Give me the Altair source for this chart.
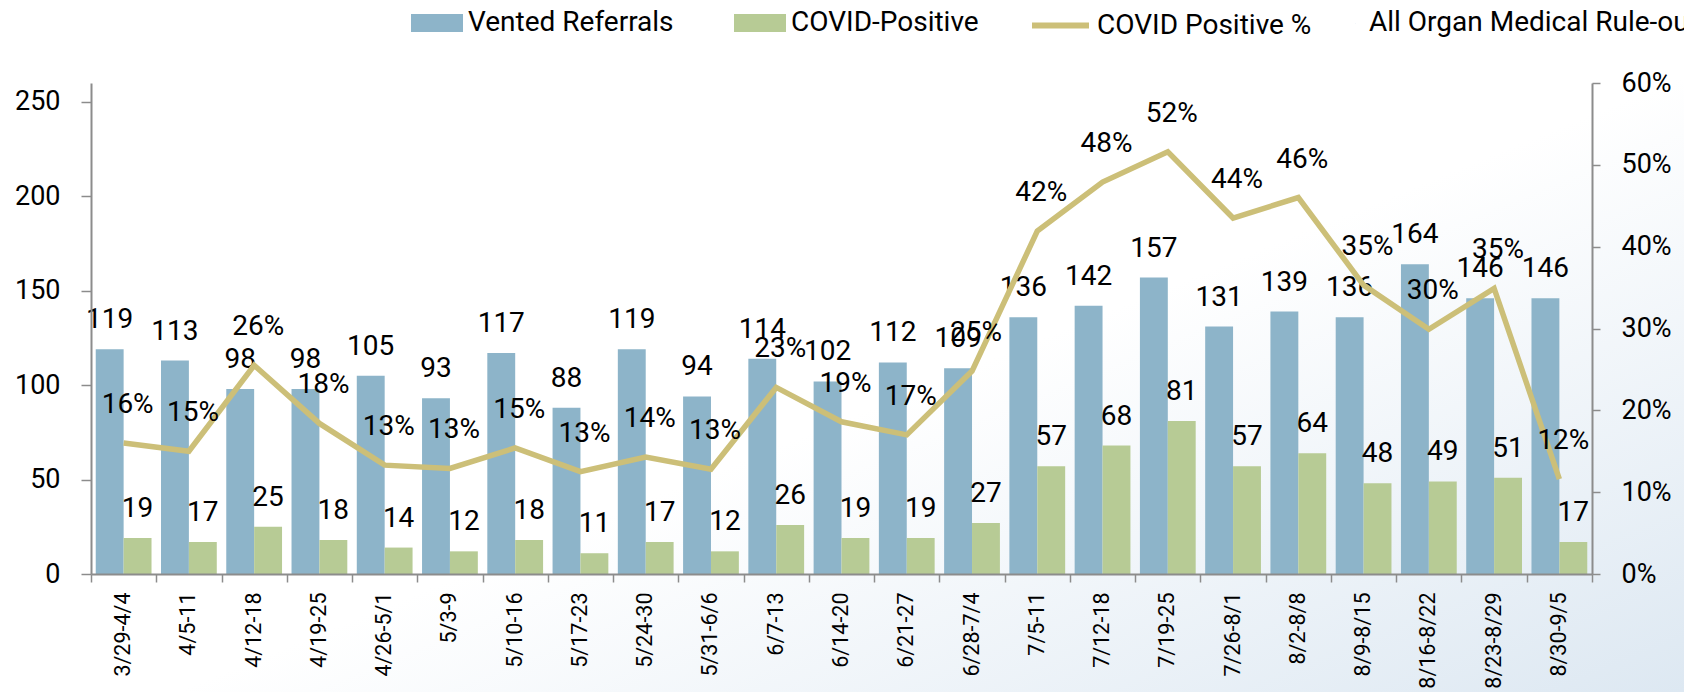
import altair as alt
import pandas as pd

weeks = ["3/29-4/4", "4/5-11", "4/12-18", "4/19-25", "4/26-5/1", "5/3-9", "5/10-16",
         "5/17-23", "5/24-30", "5/31-6/6", "6/7-13", "6/14-20", "6/21-27", "6/28-7/4",
         "7/5-11", "7/12-18", "7/19-25", "7/26-8/1", "8/2-8/8", "8/9-8/15", "8/16-8/22",
         "8/23-8/29", "8/30-9/5"]
vented = [119, 113, 98, 98, 105, 93, 117, 88, 119, 94, 114, 102, 112, 109,
          136, 142, 157, 131, 139, 136, 164, 146, 146]
positive = [19, 17, 25, 18, 14, 12, 18, 11, 17, 12, 26, 19, 19, 27,
            57, 68, 81, 57, 64, 48, 49, 51, 17]
pct = [0.160, 0.150, 0.255, 0.184, 0.133, 0.129, 0.154, 0.125, 0.143, 0.128, 0.228,
       0.186, 0.170, 0.248, 0.419, 0.479, 0.516, 0.435, 0.460, 0.353, 0.299, 0.349, 0.116]
pct_labels = ["16%", "15%", "26%", "18%", "13%", "13%", "15%", "13%", "14%", "13%", "23%",
              "19%", "17%", "25%", "42%", "48%", "52%", "44%", "46%", "35%", "30%", "35%", "12%"]

bar_series = ["Vented Referrals", "COVID-Positive"]
bar_colors = ["#8DB4C9", "#B7CB95"]
line_series = ["COVID Positive %"]
line_colors = ["#CCBF78"]
extra_series = ["All Organ Medical Rule-outs"]

FONT = "Roboto"
W, H = 1501, 491
AXIS_GRAY = "#8C8C8C"

bars_df = pd.DataFrame(
    [{"week": w, "series": bar_series[0], "value": v} for w, v in zip(weeks, vented)]
    + [{"week": w, "series": bar_series[1], "value": v} for w, v in zip(weeks, positive)]
)
line_df = pd.DataFrame({"week": weeks, "pct": pct, "label": pct_labels,
                        "series": [line_series[0]] * len(weeks)})
bg_df = pd.DataFrame({"name": extra_series})

legend_common = dict(
    orient="none", direction="horizontal", title=None, labelFont=FONT, labelFontSize=28,
    labelColor="black", padding=0, labelLimit=600, labelOffset=5,
)
bar_legend = alt.Legend(legendX=320, legendY=-86, symbolType="M-1,-0.35H1V0.35H-1Z",
                        symbolSize=2704, symbolStrokeWidth=0, columnPadding=60, **legend_common)
line_legend = alt.Legend(legendX=938, legendY=-89, symbolType="stroke", symbolSize=3249,
                         symbolStrokeWidth=6, **legend_common)
extra_legend = alt.Legend(legendX=1250, legendY=-74, symbolType="circle", symbolSize=4,
                          symbolOpacity=0, symbolStrokeWidth=0,
                          **{**legend_common, "labelOffset": 0})

color = alt.Color("series:N", scale=alt.Scale(domain=bar_series, range=bar_colors), legend=bar_legend)
stroke = alt.Stroke("series:N", scale=alt.Scale(domain=line_series, range=line_colors), legend=line_legend)
opacity = alt.Opacity("name:O", scale=alt.Scale(domain=extra_series, range=[1]), legend=extra_legend)

x_enc = alt.X("week:N", sort=weeks, scale=alt.Scale(paddingInner=0, paddingOuter=0),
              axis=alt.Axis(title=None, labelAngle=270, labelAlign="right", labelBaseline="middle",
                            labelFont=FONT, labelFontSize=21.5, labelColor="black", labelPadding=10,
                            tickSize=8, tickBand="extent", tickColor=AXIS_GRAY, tickWidth=1.5,
                            domainColor=AXIS_GRAY, domainWidth=2, grid=False, zindex=1))
xoff = alt.XOffset("series:N", sort=bar_series,
                   scale=alt.Scale(domain=bar_series, paddingInner=0, paddingOuter=0.17))
y_left = alt.Y("value:Q", scale=alt.Scale(domain=[0, 260], nice=False),
               axis=alt.Axis(title=None, orient="left", values=[0, 50, 100, 150, 200, 250],
                             labelFont=FONT, labelFontSize=27, labelColor="black", labelPadding=21,
                             tickSize=10, tickColor=AXIS_GRAY, tickWidth=1.5,
                             domainColor=AXIS_GRAY, domainWidth=2, grid=False, zindex=1))
y_right = alt.Y("pct:Q", scale=alt.Scale(domain=[0, 0.6], nice=False),
                axis=alt.Axis(title=None, orient="right", values=[0, 0.1, 0.2, 0.3, 0.4, 0.5, 0.6],
                              format=".0%", labelFont=FONT, labelFontSize=27, labelColor="black",
                              labelPadding=21, tickSize=8, tickColor=AXIS_GRAY, tickWidth=1.5,
                              domainColor=AXIS_GRAY, domainWidth=2, grid=False, zindex=1))

bg = alt.Chart(bg_df).mark_rect(
    fill={"gradient": "linear", "x1": 0, "y1": 0, "x2": 1, "y2": 1,
          "stops": [{"offset": 0, "color": "#FFFFFF"}, {"offset": 0.55, "color": "#FFFFFF"},
                    {"offset": 1, "color": "#DDE8F2"}]}
).encode(x=alt.value(-83), x2=alt.value(W + 92), y=alt.value(-75), y2=alt.value(H + 118),
         opacity=opacity)

bars = alt.Chart(bars_df).mark_bar().encode(x=x_enc, xOffset=xoff, y=y_left, color=color)
bar_text = alt.Chart(bars_df).mark_text(
    font=FONT, fontSize=28, color="black", baseline="middle", dy=-29
).encode(x=alt.X("week:N", sort=weeks), xOffset=xoff, y=alt.Y("value:Q"), text="value:Q")
bar_layer = alt.layer(bars, bar_text)

line = alt.Chart(line_df).mark_line(strokeWidth=5.5).encode(
    x=alt.X("week:N", sort=weeks), y=y_right, stroke=stroke)
line_text = alt.Chart(line_df).mark_text(
    font=FONT, fontSize=28, color="black", baseline="middle", dy=-38, dx=4
).encode(x=alt.X("week:N", sort=weeks), y=alt.Y("pct:Q"), text="label:N")
line_layer = alt.layer(line, line_text)

chart = alt.layer(bg, bar_layer, line_layer).resolve_scale(y="independent").properties(
    width=W, height=H,
    padding={"left": 83, "top": 75, "right": 92, "bottom": 118},
    autosize=alt.AutoSizeParams(type="none"),
).configure_view(stroke=None).configure(background="white")

chart.save("out.html", embed_options={"renderer": "svg", "actions": False})
